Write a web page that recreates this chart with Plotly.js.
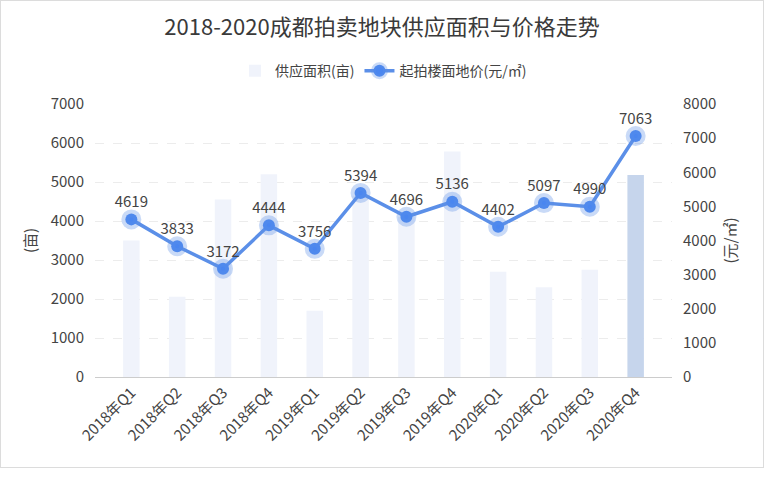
<!DOCTYPE html>
<html>
<head>
<meta charset="utf-8">
<script src="https://cdn.plot.ly/plotly-3.0.1.min.js"></script>
<style>
html,body{margin:0;padding:0;background:#fff;}
#wrap{position:absolute;left:0;top:0;width:762px;height:466px;border:1px solid #dcdcdc;}
#chart{position:absolute;left:0;top:0;width:764px;height:479px;}
</style>
</head>
<body>
<div id="wrap"></div>
<div id="chart"></div>
<script>
const categories = ["2018年Q1","2018年Q2","2018年Q3","2018年Q4","2019年Q1","2019年Q2","2019年Q3","2019年Q4","2020年Q1","2020年Q2","2020年Q3","2020年Q4"];
const supplyArea = [3500, 2060, 4550, 5200, 1700, 4650, 4100, 5780, 2700, 2300, 2750, 5180];
const landPrice = [4619, 3833, 3172, 4444, 3756, 5394, 4696, 5136, 4402, 5097, 4990, 7063];
const barColors = ["#f0f3fb","#f0f3fb","#f0f3fb","#f0f3fb","#f0f3fb","#f0f3fb","#f0f3fb","#f0f3fb","#f0f3fb","#f0f3fb","#f0f3fb","#c6d5ec"];

const FONT = '"Noto Sans CJK SC", "Noto Sans", sans-serif';

const traces = [
  {
    type: 'bar', name: '供应面积(亩)', x: categories, y: supplyArea,
    marker: {color: barColors}, width: 0.36, yaxis: 'y', hoverinfo: 'x+y'
  },
  {
    type: 'scatter', mode: 'lines+markers+text', name: '起拍楼面地价(元/㎡)',
    x: categories, y: landPrice, yaxis: 'y2',
    text: landPrice.map(String), textposition: 'top center',
    textfont: {size: 15, color: '#444', family: FONT},
    line: {color: '#5b8fe8', width: 3.5},
    marker: {size: 12, color: '#4a86f0', line: {color: 'rgba(91,143,232,0.33)', width: 8}},
    cliponaxis: false
  }
];

const layout = {
  width: 764, height: 479,
  margin: {l: 95, r: 92, t: 104, b: 102},
  paper_bgcolor: 'rgba(0,0,0,0)', plot_bgcolor: 'rgba(0,0,0,0)',
  font: {family: FONT, color: '#444', size: 14},
  title: {text: '2018-2020成都拍卖地块供应面积与价格走势', x: 0.5, xanchor: 'center', y: 0.942, yanchor: 'middle',
          font: {size: 22, color: '#3a3a3a', family: FONT}},
  showlegend: true,
  legend: {orientation: 'h', x: 0.5, xanchor: 'center', y: 1.12, yanchor: 'middle',
           font: {size: 14, color: '#444', family: FONT}, itemwidth: 30, traceorder: 'normal'},
  xaxis: {
    type: 'category', tickangle: -45, tickfont: {size: 15, color: '#444'},
    showgrid: false, showline: true, linecolor: '#cccccc', linewidth: 1,
    ticks: '', zeroline: false
  },
  yaxis: {
    range: [0, 7000], dtick: 1000, tick0: 0,
    showgrid: true, gridcolor: '#ececec', griddash: 'dash', zeroline: false,
    showline: false, tickfont: {size: 15, color: '#444'}, ticks: '', ticklabelstandoff: 10,
    title: {text: '(亩)', font: {size: 15, color: '#444'}, standoff: 10}
  },
  yaxis2: {
    range: [0, 8000], dtick: 1000, tick0: 0, overlaying: 'y', side: 'right',
    showgrid: false, zeroline: false, showline: false,
    tickfont: {size: 15, color: '#444'}, ticks: '', ticklabelstandoff: 10,
    title: {text: '(元/㎡)', font: {size: 15, color: '#444'}, standoff: 10}
  }
};

Plotly.newPlot('chart', traces, layout, {displayModeBar: false, responsive: false});
</script>
</body>
</html>
